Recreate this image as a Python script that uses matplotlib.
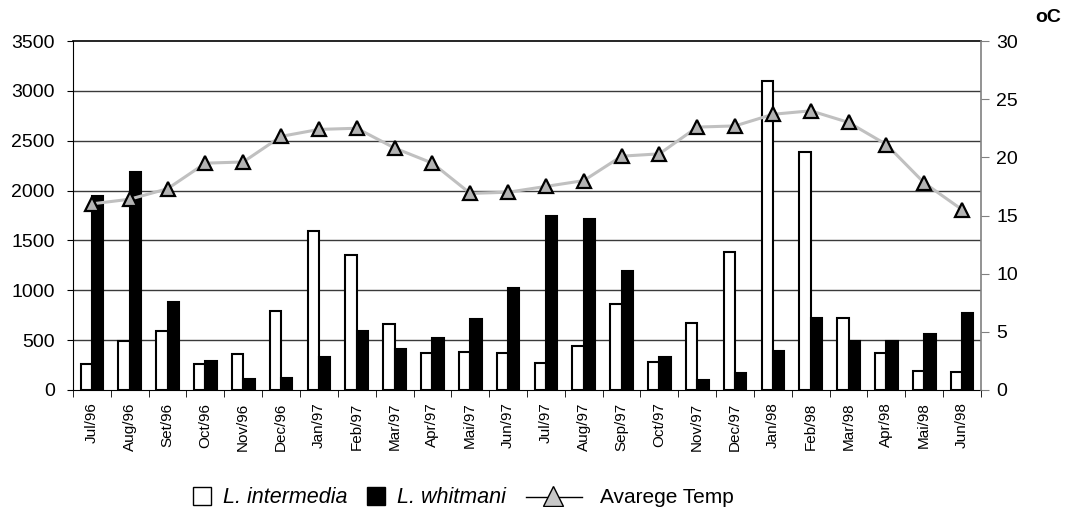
import matplotlib.pyplot as plt
import numpy as np
from matplotlib.patches import Rectangle
from matplotlib.lines import Line2D

plt.rcParams['font.family'] = ['Liberation Sans', 'DejaVu Sans']

months = ['Jul/96', 'Aug/96', 'Set/96', 'Oct/96', 'Nov/96', 'Dec/96',
          'Jan/97', 'Feb/97', 'Mar/97', 'Apr/97', 'Mai/97', 'Jun/97',
          'Jul/97', 'Aug/97', 'Sep/97', 'Oct/97', 'Nov/97', 'Dec/97',
          'Jan/98', 'Feb/98', 'Mar/98', 'Apr/98', 'Mai/98', 'Jun/98']

intermedia = [265, 495, 592, 258, 358, 792, 1595, 1354, 662, 368, 384, 368,
              274, 441, 862, 284, 675, 1387, 3099, 2384, 719, 374, 194, 184]
whitmani = [1950, 2190, 886, 291, 107, 124, 334, 595, 408, 518, 709, 1020,
            1748, 1712, 1190, 334, 100, 167, 394, 725, 491, 495, 559, 775]
temp = [16.0, 16.4, 17.3, 19.5, 19.6, 21.8, 22.4, 22.5, 20.8, 19.5, 16.9, 17.0,
        17.5, 18.0, 20.1, 20.3, 22.6, 22.7, 23.7, 24.0, 23.0, 21.1, 17.8, 15.5]

W, H = 1071, 507
fig = plt.figure(figsize=(W / 100, H / 100), dpi=100)
ax = fig.add_axes([73 / W, 1 - 390 / H, (981 - 73) / W, (390 - 41) / H])
ax2 = ax.twinx()

x = np.arange(len(months))
w = 0.3

# gridlines
for v in range(500, 3500, 500):
    ax.axhline(v, color='#3a3a3a', lw=1, zorder=0)
ax.axhline(3500, color='black', lw=1.2, zorder=0, clip_on=False)

ax.bar(x - w / 2, intermedia, w, color='white', edgecolor='black', lw=1.5, zorder=2)
ax.bar(x + w / 2, whitmani, w, color='black', edgecolor='black', lw=1.5, zorder=2)

ax2.plot(x, temp, color='#c0c0c0', lw=2.2, marker='^', ms=10.5,
         markerfacecolor='#b3b3b3', markeredgecolor='black', markeredgewidth=1.6)

ax.set_xlim(-0.5, len(months) - 0.5)
ax.set_ylim(0, 3500)
ax2.set_ylim(0, 30)
ax.set_yticks(range(0, 3501, 500))
ax2.set_yticks(range(0, 31, 5))

ax.set_xticks(x)
ax.set_xticklabels(months, rotation=90, fontsize=11)
ax.set_xticks(np.arange(-0.5, len(months), 1), minor=True)
ax.tick_params(axis='x', which='major', length=0, pad=9)
ax.tick_params(axis='x', which='minor', length=5, direction='out', color='black')
ax.tick_params(axis='y', labelsize=14, length=4, direction='out', pad=9)
ax2.tick_params(axis='y', labelsize=14, length=6, direction='out', color='#808080', pad=5)

for a in (ax, ax2):
    a.spines['top'].set_visible(False)
ax2.spines['left'].set_visible(False)
ax2.spines['bottom'].set_visible(False)
ax.spines['right'].set_visible(False)
ax2.spines['right'].set_color('#808080')
ax2.spines['right'].set_linewidth(1.2)

fig.text(1048 / W, 1 - 18 / H, 'oC', fontsize=14, fontweight='bold',
         ha='center', va='center')

# legend drawn by hand, positions in pixels
def fx(px):
    return px / W

def fy(py):
    return 1 - py / H

sq = 18
fig.add_artist(Rectangle((fx(193), fy(505)), sq / W, sq / H, facecolor='white',
                         edgecolor='black', lw=1, transform=fig.transFigure))
fig.add_artist(Rectangle((fx(367), fy(505)), sq / W, sq / H, facecolor='black',
                         edgecolor='black', lw=1, transform=fig.transFigure))
fig.add_artist(Line2D([fx(526), fx(582)], [fy(497), fy(497)], color='black', lw=1,
                      transform=fig.transFigure))
fig.add_artist(Line2D([fx(553)], [fy(496)], marker='^', ms=14, color='black',
                      markerfacecolor='#c8c8c8', markeredgecolor='black',
                      markeredgewidth=1, transform=fig.transFigure))
fig.text(fx(223), fy(503), 'L. intermedia', fontsize=15.5, style='italic', va='baseline')
fig.text(fx(397), fy(503), 'L. whitmani', fontsize=15.5, style='italic', va='baseline')
fig.text(fx(600), fy(503), 'Avarege Temp', fontsize=15, va='baseline')

fig.savefig('out.png', dpi=100)
